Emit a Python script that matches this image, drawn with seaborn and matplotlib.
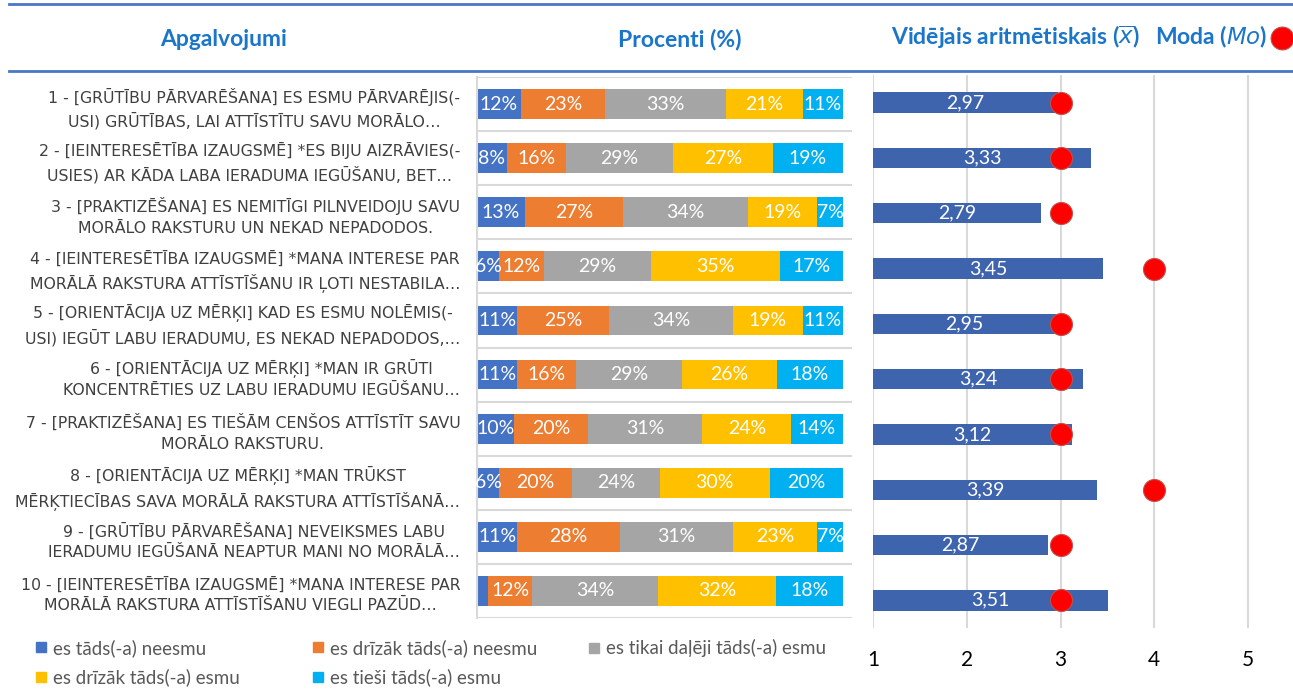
import numpy as np
import pandas as pd
import matplotlib.pyplot as plt
import seaborn as sns
from matplotlib.lines import Line2D

# apgalvojumi (kategorijas)
statements = [
    "1 - [GRŪTĪBU PĀRVARĒŠANA] ES ESMU PĀRVARĒJIS(-\nUSI) GRŪTĪBAS, LAI ATTĪSTĪTU SAVU MORĀLO…",
    "2 - [IEINTERESĒTĪBA IZAUGSMĒ] *ES BIJU AIZRĀVIES(-\nUSIES) AR KĀDA LABA IERADUMA IEGŪŠANU, BET…",
    "3 - [PRAKTIZĒŠANA] ES NEMITĪGI PILNVEIDOJU SAVU\nMORĀLO RAKSTURU UN NEKAD NEPADODOS.",
    "4 - [IEINTERESĒTĪBA IZAUGSMĒ] *MANA INTERESE PAR\nMORĀLĀ RAKSTURA ATTĪSTĪŠANU IR ĻOTI NESTABILA…",
    "5 - [ORIENTĀCIJA UZ MĒRĶI] KAD ES ESMU NOLĒMIS(-\nUSI) IEGŪT LABU IERADUMU, ES NEKAD NEPADODOS,…",
    "6 - [ORIENTĀCIJA UZ MĒRĶI] *MAN IR GRŪTI\nKONCENTRĒTIES UZ LABU IERADUMU IEGŪŠANU…",
    "7 - [PRAKTIZĒŠANA] ES TIEŠĀM CENŠOS ATTĪSTĪT SAVU\nMORĀLO RAKSTURU.",
    "8 - [ORIENTĀCIJA UZ MĒRĶI] *MAN TRŪKST\nMĒRĶTIECĪBAS SAVA MORĀLĀ RAKSTURA ATTĪSTĪŠANĀ…",
    "9 - [GRŪTĪBU PĀRVARĒŠANA] NEVEIKSMES LABU\nIERADUMU IEGŪŠANĀ NEAPTUR MANI NO MORĀLĀ…",
    "10 - [IEINTERESĒTĪBA IZAUGSMĒ] *MANA INTERESE PAR\nMORĀLĀ RAKSTURA ATTĪSTĪŠANU VIEGLI PAZŪD…",
]

levels = [
    "es tāds(-a) neesmu",
    "es drīzāk tāds(-a) neesmu",
    "es tikai daļēji tāds(-a) esmu",
    "es drīzāk tāds(-a) esmu",
    "es tieši tāds(-a) esmu",
]
colors = ["#4472C4", "#ED7D31", "#A5A5A5", "#FFC000", "#00B0F0"]

# procenti
p_neesmu = [12, 8, 13, 6, 11, 11, 10, 6, 11, 3]
p_drizak_neesmu = [23, 16, 27, 12, 25, 16, 20, 20, 28, 12]
p_dalji = [33, 29, 34, 29, 34, 29, 31, 24, 31, 34]
p_drizak_esmu = [21, 27, 19, 35, 19, 26, 24, 30, 23, 32]
p_tiesi = [11, 19, 7, 17, 11, 18, 14, 20, 7, 18]

# vidējais un moda
means = [2.97, 3.33, 2.79, 3.45, 2.95, 3.24, 3.12, 3.39, 2.87, 3.51]
modes = [3, 3, 3, 4, 3, 3, 3, 4, 3, 3]

W, H = 1293, 689


def rect(x0, y0, x1, y1):
    return [x0 / W, 1 - y1 / H, (x1 - x0) / W, (y1 - y0) / H]


plt.rcParams["font.family"] = ["Lato", "DejaVu Sans"]

fig = plt.figure(figsize=(W / 100, H / 100), dpi=100)

# fons ar līnijām un virsrakstiem (pikseļu koordinātēs)
bg = fig.add_axes([0, 0, 1, 1], zorder=-1)
bg.set_xlim(0, W)
bg.set_ylim(H, 0)
bg.axis("off")
head_blue = "#1B75C9"
bg.plot([9, W], [4, 4], color="#4A76C9", lw=2)
bg.plot([9, W], [71, 71], color="#4A76C9", lw=2)
bg.text(224, 40, "Apgalvojumi", color=head_blue, fontsize=16.5, fontweight="bold", ha="center", va="center")
bg.text(680, 40, "Procenti (%)", color=head_blue, fontsize=16.5, fontweight="bold", ha="center", va="center")
bg.text(1015, 37, r"Vidējais aritmētiskais ($\overline{x}$)", color=head_blue, fontsize=16.5,
        fontweight="bold", ha="center", va="center")
bg.text(1211, 37, r"Moda ($Mo$)", color=head_blue, fontsize=16.5, fontweight="bold", ha="center", va="center")
bg.scatter([1282], [38], s=270, color="#FF0000", edgecolor="#C0504D", lw=0.8, zorder=5)

# procentu stabiņi (100% sakrautie)
pct = np.array([p_neesmu, p_drizak_neesmu, p_dalji, p_drizak_esmu, p_tiesi], dtype=float)
share = pct / pct.sum(axis=0) * 100
cum = np.cumsum(share, axis=0)

ax = fig.add_axes(rect(477, 77, 852, 618))
for k in range(4, -1, -1):
    sns.barplot(x=cum[k], y=statements, orient="h", color=colors[k], width=0.55,
                saturation=1, linewidth=0, ax=ax)

for k in range(5):
    for i in range(len(statements)):
        if pct[k, i] >= 5:
            x = cum[k, i] - share[k, i] / 2
            ax.text(x, i, f"{int(pct[k, i])}%", color="white", fontsize=14, ha="center", va="center")

ax.set_xlim(0, 102.5)
ax.set_ylim(9.5, -0.5)
ax.hlines(np.arange(-0.5, 10), 0, 102.5, color="#D9D9D9", lw=1.5, zorder=0)
for s in ["top", "right", "bottom"]:
    ax.spines[s].set_visible(False)
ax.spines["left"].set_color("#D9D9D9")
ax.spines["left"].set_linewidth(1.5)
ax.set_xticks([])
ax.set_xlabel("")
ax.set_ylabel("")
ax.tick_params(axis="y", length=0, pad=12)
for t in ax.get_yticklabels():
    t.set_fontfamily("DejaVu Sans")
    t.set_fontsize(11.3)
    t.set_color("#404040")
    t.set_multialignment("center")
    t.set_linespacing(1.45)

# vidējais aritmētiskais un moda
ax2 = fig.add_axes(rect(873, 75, 1260, 628))
sns.barplot(x=means, y=statements, orient="h", color="#3F64AE", width=0.37,
            saturation=1, linewidth=0, ax=ax2)
ax2.scatter(modes, range(len(modes)), s=250, color="#FF0000", edgecolor="#C0504D", lw=0.8, zorder=5)
for i, m in enumerate(means):
    ax2.text((1 + m) / 2, i, f"{m:.2f}".replace(".", ","), color="white", fontsize=14,
             ha="center", va="center")
ax2.set_xlim(1, 5.128)
ax2.set_ylim(9.5, -0.5)
ax2.set_xticks([1, 2, 3, 4, 5])
ax2.set_yticks([])
ax2.grid(axis="x", color="#D9D9D9", lw=1.5)
ax2.set_axisbelow(True)
for s in ax2.spines.values():
    s.set_visible(False)
ax2.tick_params(axis="x", length=0, pad=16, labelsize=15)
ax2.set_xlabel("")
ax2.set_ylabel("")

# leģenda: trīs kolonnas, katra savā vietā
handles = [Line2D([], [], marker="s", ls="", color=c, markersize=7) for c in colors]
columns = [([0, 3], 36), ([1, 4], 313), ([2], 589)]
for idx, x0 in columns:
    leg = fig.legend([handles[i] for i in idx], [levels[i] for i in idx],
                     loc="upper left", bbox_to_anchor=(x0 / W, 1 - 639 / H), frameon=False,
                     fontsize=13.5, labelcolor="#595959", handlelength=0.55, handletextpad=0.35,
                     labelspacing=0.6, borderaxespad=0, borderpad=0)

fig.savefig("out.png", dpi=100)
